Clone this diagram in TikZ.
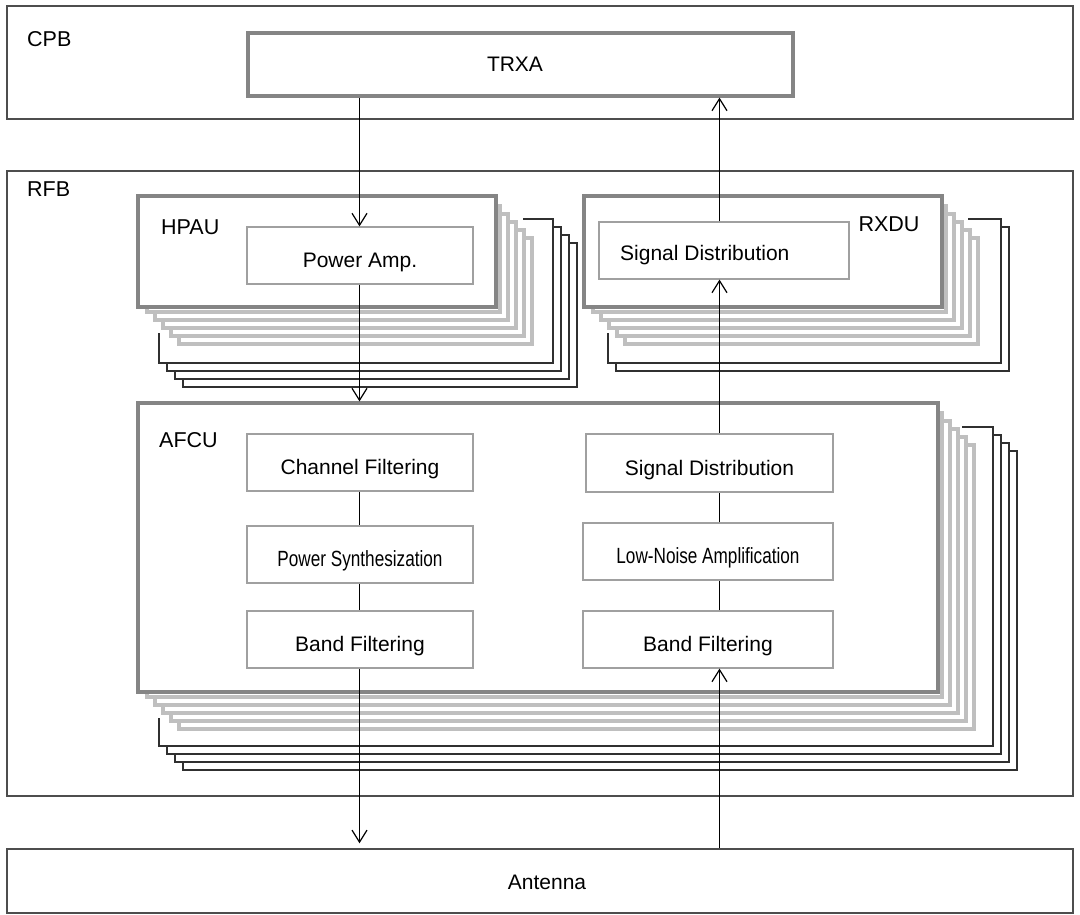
\documentclass[tikz,border=0pt]{standalone}
\usepackage{fontspec}
\setmainfont{Liberation Sans}
\usepackage{graphicx}
\usetikzlibrary{arrows.meta}

\definecolor{frame}{HTML}{4D4D4D}
\definecolor{unit}{HTML}{858585}
\definecolor{fn}{HTML}{A0A0A0}
\definecolor{shade}{HTML}{BFBFBF}
\definecolor{stack}{HTML}{303030}

\tikzset{
  board/.style={draw=frame, line width=1.5pt, fill=white, inner sep=0pt},
  unitbox/.style={draw=unit, line width=3.2pt, fill=white, inner sep=0pt},
  fnbox/.style={draw=fn, line width=1.2pt, fill=white, inner sep=0pt,
                text height=24pt, text depth=0pt,
                font=\fontsize{21}{25}\selectfont},
  txt/.style={inner sep=0pt, text depth=0pt, font=\fontsize{21}{25}\selectfont},
  tag/.style={inner sep=0pt, text depth=0pt, font=\fontsize{21.5}{25}\selectfont},
  sheetshade/.style={draw=shade, line width=4.4pt, fill=white},
  sheetline/.style={draw=stack, line width=1.1pt},
  flow/.style={draw=black, line width=1.2pt},
  arr/.style={flow, -{Straight Barb[length=12pt,width=15pt]}},
}

% box from its left, top, right and bottom border lines
\newcommand\blk[7]{%
  \node[#1, minimum width={#5pt-#3pt}, minimum height={#6pt-#4pt}, anchor=center]
    (#2) at ({(#3+#5)/2},{(#4+#6)/2}) {#7};}

% five light sheets stacked behind a unit (left, top, right, bottom of the unit)
\newcommand\shadestack[4]{%
  \foreach \k in {5,4,3,2,1}{%
    \draw[sheetshade] ({#1+8*\k+1},{#2+8*\k+2}) rectangle ({#3+8*\k-4},{#4+8*\k-3});}}

% outlined sheets further back: first sheet L T R B, count, where its top and left edges show
\newcommand\linestack[7]{%
  \draw[sheetline] (#6,#2) -| (#3,#4) -| (#1,#7);
  \foreach \k in {2,...,#5}{%
    \draw[sheetline] ({#3+8*(\k-2)},{#2+8*(\k-1)}) -| ({#3+8*(\k-1)},{#4+8*(\k-1)})
      -| ({#1+8*(\k-1)},{#4+8*(\k-2)});}}

\begin{document}
\begin{tikzpicture}[x=1pt, y=-1pt]
\useasboundingbox (0,0) rectangle (1080,915);

% boards
\blk{board}{cpb}{7}{6}{1073}{119}{}
\blk{board}{rfb}{7}{171}{1073}{796}{}
\blk{board}{ant}{7}{849}{1073}{913}{}
\node[tag, anchor=west] (cpbtag) at (27,39) {CPB};
\node[tag, anchor=west] (rfbtag) at (27,189) {RFB};
\node[txt] (anttxt) at (547,882) {Antenna};

% transceiver
\blk{unitbox}{trxa}{248}{33}{793}{96}{}
\node[txt] (trxatxt) at (515,64) {TRXA};

% HPAU stack
\linestack{159}{219}{553}{363}{4}{523}{333}
\shadestack{138}{196}{496}{307}
\blk{unitbox}{hpau}{138}{196}{496}{307}{}
\node[tag, anchor=west] (hpautag) at (161,227.5) {HPAU};
\blk{fnbox}{pa}{247}{227}{473}{284}{Power Amp.}

% RXDU stack
\linestack{608}{219}{1001}{363}{2}{968}{333}
\shadestack{584}{196}{942}{307}
\blk{unitbox}{rxdu}{584}{196}{942}{307}{}
\node[tag] (rxdutag) at (889,224) {RXDU};
\blk{fnbox}{sdr}{599}{222}{849}{279}{}
\node[txt, anchor=west] (sdrtxt) at (620,253) {Signal Distribution};

% AFCU stack
\linestack{159}{427}{993}{746}{4}{962}{718}
\shadestack{138}{403}{938}{692}
\blk{unitbox}{afcu}{138}{403}{938}{692}{}
\node[tag, anchor=west] (afcutag) at (159,440) {AFCU};
\blk{fnbox}{cf}{247}{434}{473}{491}{Channel Filtering}
\blk{fnbox}{ps}{247}{526}{473}{583}{\fontsize{22}{26}\selectfont\scalebox{0.78}[1]{Power Synthesization}}
\blk{fnbox}{bft}{247}{611}{473}{668}{Band Filtering}
\blk{fnbox}{sda}{586}{434}{833}{492}{Signal Distribution}
\blk{fnbox}{lna}{583}{523}{833}{580}{\fontsize{22}{26}\selectfont\scalebox{0.78}[1]{Low-Noise Amplification}}
\blk{fnbox}{bfr}{583}{611}{833}{668}{Band Filtering}

% signal paths
\coordinate (tx) at (359.5,0);
\coordinate (rx) at (719.5,0);
\draw[arr] (trxa.south -| tx) -- (pa.north -| tx);
\draw[arr] (pa.south -| tx) -- (afcu.north -| tx);
\draw[flow] (cf.south -| tx) -- (ps.north -| tx);
\draw[flow] (ps.south -| tx) -- (bft.north -| tx);
\draw[arr, shorten >=5pt] (bft.south -| tx) -- (ant.north -| tx);
\draw[arr] (ant.north -| rx) -- (bfr.south -| rx);
\draw[flow] (bfr.north -| rx) -- (lna.south -| rx);
\draw[flow] (lna.north -| rx) -- (sda.south -| rx);
\draw[arr] (sda.north -| rx) -- (sdr.south -| rx);
\draw[arr] (sdr.north -| rx) -- (trxa.south -| rx);
\end{tikzpicture}
\end{document}
